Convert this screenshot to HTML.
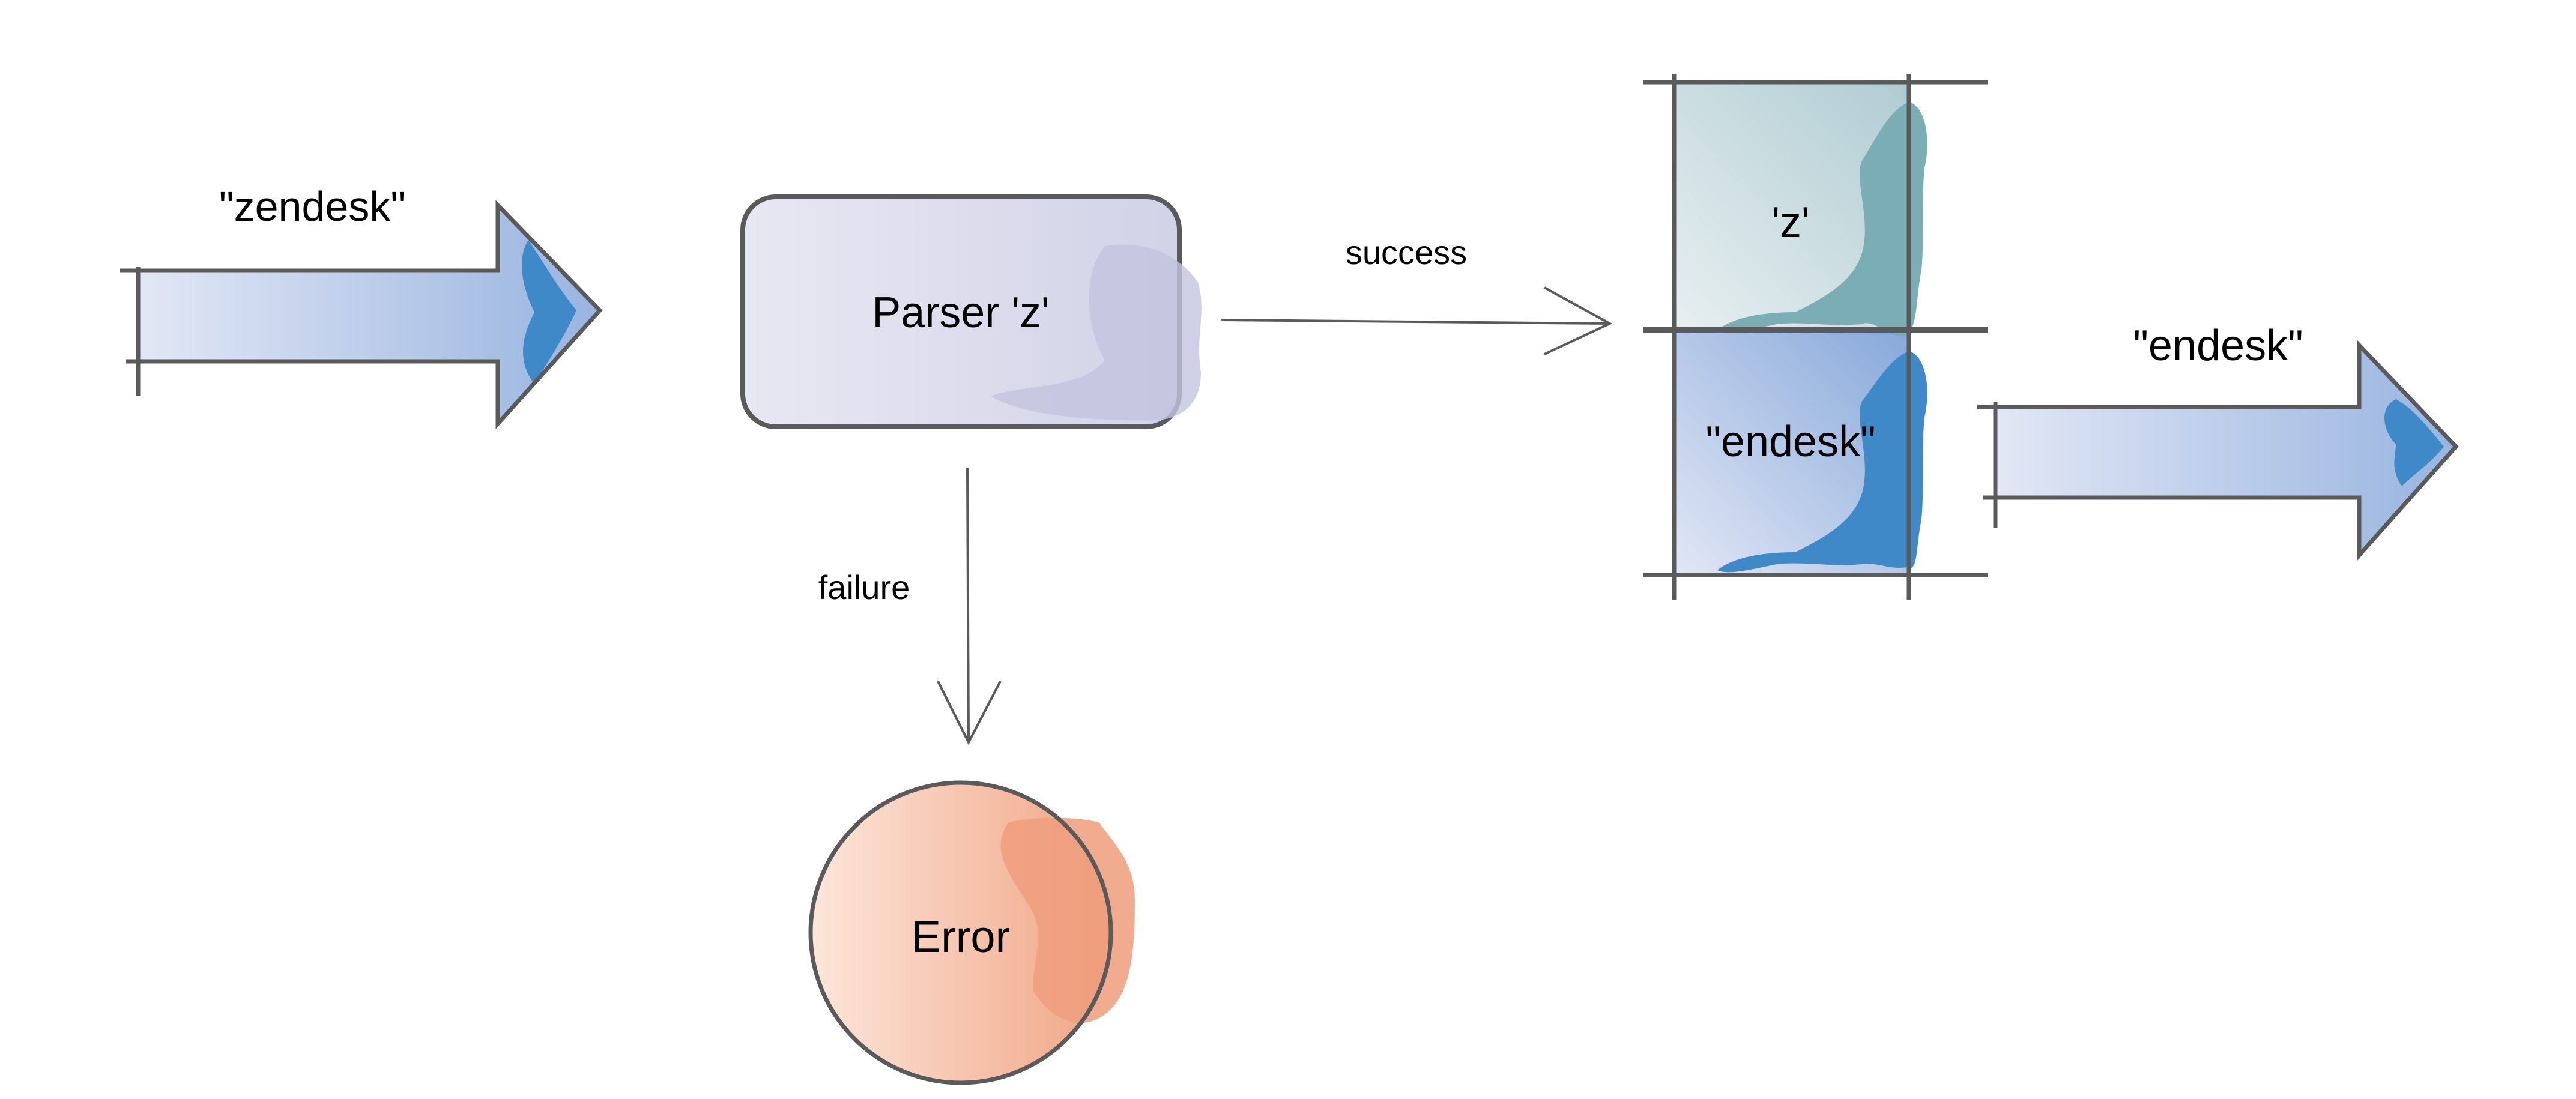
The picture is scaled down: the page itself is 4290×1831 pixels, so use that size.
<!DOCTYPE html>
<html><head><meta charset="utf-8"><style>
html,body{margin:0;padding:0;background:#fff}
svg{display:block}
text{font-family:"Liberation Sans",Arial,sans-serif;fill:#000}
</style></head><body>
<svg width="4290" height="1831" viewBox="0 0 4290 1831" xmlns="http://www.w3.org/2000/svg">
<defs>
<linearGradient id="ab" x1="0" x2="1" y1="0" y2="0"><stop offset="0" stop-color="#e2e7f5"/><stop offset="1" stop-color="#98b4e0"/></linearGradient>
<linearGradient id="pb" x1="0" x2="1"><stop offset="0" stop-color="#e8e8f3"/><stop offset="1" stop-color="#d2d2e8"/></linearGradient>
<linearGradient id="tz" x1="0" y1="1" x2="1" y2="0"><stop offset="0" stop-color="#e8eff1"/><stop offset="1" stop-color="#afccd2"/></linearGradient>
<linearGradient id="te" x1="0" y1="1" x2="1" y2="0"><stop offset="0" stop-color="#e2e7f5"/><stop offset="1" stop-color="#86a8da"/></linearGradient>
<linearGradient id="er" x1="0" x2="1"><stop offset="0" stop-color="#fde6da"/><stop offset="1" stop-color="#f0a585"/></linearGradient>
</defs>

<!-- left arrow -->
<polygon points="230,451 829,451 829,342 999,517 829,706 829,602 230,602" fill="url(#ab)"/>
<path d="M880,400 C900,430 930,480 960,517 C940,560 920,590 890,640 C860,600 870,560 890,520 C870,480 860,430 880,400Z" fill="#3f89c9"/>
<g stroke="#5a5a5a" stroke-width="7" fill="none">
<path d="M200,451 H829 V342 L999,517 L829,706 V602 H210"/>
<line x1="230" y1="445" x2="230" y2="660"/>
</g>
<text x="520" y="368" font-size="70" text-anchor="middle">"zendesk"</text>

<!-- parser box -->
<rect x="1237" y="328" width="727" height="383" rx="55" fill="url(#pb)" stroke="#5a5a5a" stroke-width="8"/>
<path d="M1840,410 C1900,400 1960,420 1995,470 C2010,520 1990,560 2000,620 C2000,680 1960,705 1900,700 C1800,700 1700,690 1650,660 C1700,640 1800,650 1840,600 C1810,550 1800,460 1840,410Z" fill="#c3c3df" opacity="0.8"/>
<text x="1600" y="545" font-size="72" text-anchor="middle">Parser 'z'</text>

<!-- success / failure -->
<g stroke="#5a5a5a" stroke-width="4" fill="none">
<line x1="2033" y1="533" x2="2681" y2="539"/>
<polyline points="2572,479 2681,539 2572,590"/>
<line x1="1611" y1="780" x2="1613" y2="1237"/>
<polyline points="1562,1135 1613,1237 1666,1135"/>
</g>
<text x="2342" y="440" font-size="56" text-anchor="middle">success</text>
<text x="1439" y="998" font-size="56" text-anchor="middle">failure</text>

<!-- error -->
<circle cx="1600" cy="1554" r="250" fill="url(#er)"/>
<path d="M1680,1370 C1720,1360 1790,1360 1830,1370 C1860,1410 1890,1440 1890,1500 C1890,1600 1880,1660 1840,1690 C1800,1720 1750,1700 1720,1650 C1720,1600 1740,1560 1720,1520 C1700,1480 1640,1420 1680,1370Z" fill="#ef9e7c" opacity="0.85"/>
<circle cx="1600" cy="1554" r="250" fill="none" stroke="#5a5a5a" stroke-width="7"/>
<text x="1600" y="1586" font-size="74" text-anchor="middle">Error</text>

<!-- stack -->
<rect x="2788" y="137" width="391" height="410" fill="url(#tz)"/>
<rect x="2788" y="547" width="391" height="411" fill="url(#te)"/>
<path d="M3180,170 C3210,180 3215,240 3205,280 C3200,330 3205,400 3200,450 C3190,500 3195,540 3175,560 C3150,565 3120,530 3100,540 C3050,545 3000,535 2960,540 C2930,545 2880,560 2860,550 C2890,525 2950,520 2990,520 C3050,490 3100,460 3105,400 C3110,350 3090,300 3100,270 C3130,220 3150,180 3180,170Z" fill="#7aaeb4"/>
<path d="M3180,585 C3210,595 3215,655 3205,695 C3200,745 3205,815 3200,865 C3190,915 3195,955 3175,945 C3150,950 3120,935 3100,940 C3050,945 3000,935 2960,940 C2930,945 2880,960 2860,950 C2890,925 2950,920 2990,920 C3050,890 3100,860 3105,800 C3110,750 3090,700 3100,670 C3130,630 3150,595 3180,585Z" fill="#3f89c9"/>
<g stroke="#5a5a5a" stroke-width="7">
<line x1="2736" y1="137" x2="3311" y2="137"/>
<line x1="2736" y1="549" x2="3311" y2="549" stroke-width="10"/>
<line x1="2736" y1="958" x2="3311" y2="958"/>
<line x1="2788" y1="123" x2="2788" y2="999"/>
<line x1="3179" y1="123" x2="3179" y2="999"/>
</g>
<text x="2982" y="395" font-size="72" text-anchor="middle">'z'</text>
<text x="2982" y="760" font-size="72" text-anchor="middle">"endesk"</text>

<!-- right arrow -->
<polygon points="3323,678 3929,678 3929,575 4090,744 3929,925 3929,829 3323,829" fill="url(#ab)"/>
<path d="M3990,665 C4020,680 4050,720 4070,744 C4050,770 4020,790 4000,810 C3980,780 3990,760 3990,740 C3970,720 3960,680 3990,665Z" fill="#3f89c9"/>
<g stroke="#5a5a5a" stroke-width="7" fill="none">
<path d="M3293,678 H3929 V575 L4090,744 L3929,925 V829 H3303"/>
<line x1="3323" y1="670" x2="3323" y2="880"/>
</g>
<text x="3694" y="600" font-size="72" text-anchor="middle">"endesk"</text>
</svg>
</body></html>
